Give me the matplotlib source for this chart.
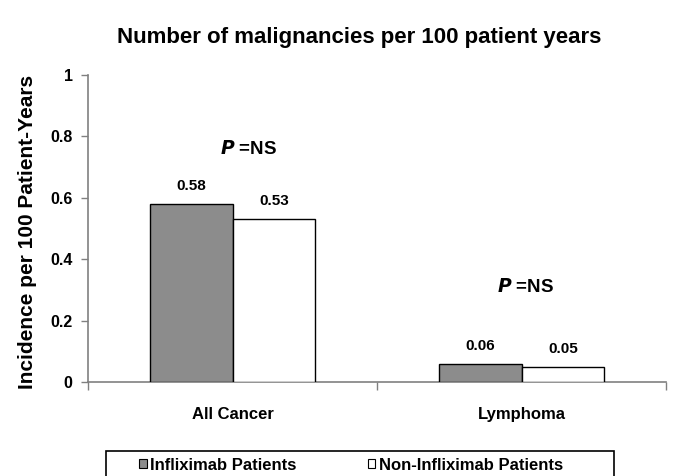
import matplotlib
matplotlib.use("Agg")
import matplotlib.pyplot as plt
from matplotlib.patches import Patch, Rectangle
import numpy as np

plt.rcParams['font.family'] = ['Liberation Sans', 'DejaVu Sans']
plt.rcParams['font.weight'] = 'bold'

categories = ["All Cancer", "Lymphoma"]
series_names = ["Infliximab Patients", "Non-Infliximab Patients"]
infliximab = [0.58, 0.06]
non_infliximab = [0.53, 0.05]
value_labels_a = ["0.58", "0.06"]
value_labels_b = ["0.53", "0.05"]
p_labels = ["NS", "NS"]
p_label_x = [0.057, 1.016]
p_label_y = [0.76, 0.31]
yticks = [0, 0.2, 0.4, 0.6, 0.8, 1]
ytick_labels = ["0", "0.2", "0.4", "0.6", "0.8", "1"]
title = "Number of malignancies per 100 patient years"
ylabel = "Incidence per 100 Patient-Years"

W, H = 677, 476
fig = plt.figure(figsize=(W / 100, H / 100), dpi=100)
ax = fig.add_axes([88 / W, 1 - 382 / H, (666 - 88) / W, (382 - 75) / H])

x = np.arange(len(categories))
bw = 0.287
gray = '#8c8c8c'
ax.bar(x - bw / 2, infliximab, bw, color=gray, edgecolor='black', linewidth=1.0, zorder=3)
ax.bar(x + bw / 2, non_infliximab, bw, color='white', edgecolor='black', linewidth=1.0, zorder=3)

for i in range(len(categories)):
    ax.text(x[i] - bw / 2, infliximab[i] + 0.036, value_labels_a[i], ha='center', va='bottom',
            fontsize=11, fontweight='bold')
    ax.text(x[i] + bw / 2, non_infliximab[i] + 0.036, value_labels_b[i], ha='center', va='bottom',
            fontsize=11, fontweight='bold')
    ax.text(p_label_x[i], p_label_y[i], r'$\bf\it{P}$' + ' =' + p_labels[i], ha='center', va='center',
            fontsize=13.5, fontweight='bold')

ax.set_xlim(-0.5, len(categories) - 0.5)
ax.set_ylim(0, 1)
ax.set_yticks(yticks)
ax.set_yticklabels(ytick_labels, fontsize=11.5, fontweight='bold')
ax.set_xticks(x)
ax.set_xticklabels(categories, fontsize=12, fontweight='bold')
ax.tick_params(axis='x', which='major', length=0, pad=18)
ax.set_xticks(np.arange(-0.5, len(categories), 1.0), minor=True)
ax.tick_params(axis='x', which='minor', length=6, color='#808080', width=1)
ax.tick_params(axis='y', length=5, color='#808080', width=1, pad=6)

for s in ['top', 'right']:
    ax.spines[s].set_visible(False)
for s in ['left', 'bottom']:
    ax.spines[s].set_color('#808080')
    ax.spines[s].set_linewidth(1.2)

fig.text(28 / W, 1 - 232 / H, ylabel, rotation=90, ha='center', va='center',
         fontsize=15, fontweight='bold')
fig.text(359 / W, 1 - 37 / H, title, ha='center', va='center', fontsize=16, fontweight='bold')

handles = [Patch(facecolor=gray, edgecolor='black', linewidth=0.8),
           Patch(facecolor='white', edgecolor='black', linewidth=0.8)]
fig.legend(handles, series_names, loc='center left', bbox_to_anchor=(139 / W, 1 - 465 / H),
           ncol=2, frameon=False, prop={'weight': 'bold', 'size': 12},
           handlelength=0.45, handleheight=0.45, handletextpad=0.2, columnspacing=4.3,
           borderpad=0, borderaxespad=0)
fig.patches.append(Rectangle((106 / W, -0.05), (614 - 106) / W, (1 - 451 / H) + 0.05,
                             transform=fig.transFigure, fill=False, edgecolor='black', linewidth=1.2))

fig.savefig("out.png", dpi=100)
